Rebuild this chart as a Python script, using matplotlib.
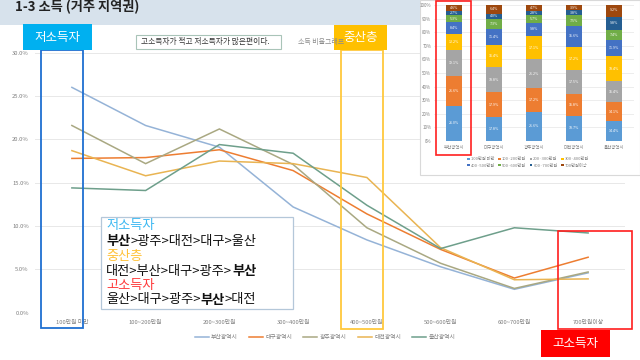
import matplotlib
matplotlib.use('Agg')
import matplotlib.pyplot as plt
from matplotlib.patches import Rectangle
import numpy as np

plt.rcParams['font.family'] = ['Noto Sans CJK KR', 'DejaVu Sans']

# ---------------- data ----------------
categories = ['100만원 미만', '100~200만원', '200~300만원', '300~400만원',
              '400~500만원', '500~600만원', '600~700만원', '700만원이상']
cities = ['부산광역시', '대구광역시', '광주광역시', '대전광역시', '울산광역시']
busan = [26.0, 21.6, 19.1, 12.2, 8.4, 5.3, 2.7, 4.6]
daegu = [17.8, 17.9, 18.8, 16.4, 11.4, 7.3, 4.0, 6.4]
gwangju = [21.6, 17.2, 21.2, 17.1, 9.8, 5.7, 2.8, 4.7]
daejeon = [18.7, 15.8, 17.5, 17.2, 15.6, 7.5, 3.8, 3.9]
ulsan = [14.4, 14.1, 19.4, 18.4, 12.4, 7.4, 9.8, 9.2]
ulsan_bar = [14.4, 14.1, 15.4, 18.4, 11.9, 7.4, 9.8, 9.2]
main_yticks = [0, 5, 10, 15, 20, 25, 30]
inset_yticks = [0, 10, 20, 30, 40, 50, 60, 70, 80, 90, 100]

line_colors = ['#95B3D7', '#ED7D31', '#A9A882', '#E9B452', '#6E9F8B']
bar_colors = ['#5B9BD5', '#ED7D31', '#A5A5A5', '#FFC000',
              '#4472C4', '#70AD47', '#255E91', '#9E480E']

W, H = 640, 360
fig = plt.figure(figsize=(6.4, 3.6), dpi=100)
fig.patch.set_facecolor('white')

def fx(p):
    return p / W

def fy(p):
    return 1 - p / H

# ---------------- main line chart ----------------
ax = fig.add_axes([fx(35), fy(312.7), 590 / W, 260 / H], zorder=0)
ax.set_facecolor('none')
x = np.arange(len(categories))
series = [busan, daegu, gwangju, daejeon, ulsan]
for vals, c, name in zip(series, line_colors, cities):
    ax.plot(x, vals, color=c, lw=1.1, label=name, solid_joinstyle='miter')
ax.set_xlim(-0.5, len(categories) - 0.5)
ax.set_ylim(0, 30)
ax.set_yticks(main_yticks)
ax.set_yticklabels([f'{v:.1f}%' for v in main_yticks])
ax.set_xticks(x)
ax.set_xticklabels(categories)
ax.tick_params(length=0, labelsize=4.2, labelcolor='#7F7F7F')
ax.tick_params(axis='y', pad=4.5)
ax.tick_params(axis='x', pad=5)
ax.grid(axis='y', color='#E8E8E8', lw=0.7)
ax.set_axisbelow(True)
for s in ax.spines.values():
    s.set_visible(False)
ax.legend(loc='center', bbox_to_anchor=(fx(325), fy(337.6)), bbox_transform=fig.transFigure,
          ncol=5, frameon=False, fontsize=4.2, handlelength=2.4, columnspacing=1.9,
          handletextpad=0.4, labelcolor='#7F7F7F')

# ---------------- inset stacked bar chart ----------------
fig.add_artist(Rectangle((fx(420), fy(175)), 220 / W, 175 / H, transform=fig.transFigure,
                         fc='white', ec='#D9D9D9', lw=0.8, zorder=1))
iax = fig.add_axes([fx(434), fy(141), 200 / W, 136 / H], zorder=2)
iax.set_facecolor('none')
bar_data = [busan, daegu, gwangju, daejeon, ulsan_bar]
xi = np.arange(len(cities))
bottoms = np.zeros(len(cities))
handles = []
for k, cat in enumerate(categories):
    vals = np.array([d[k] for d in bar_data])
    b = iax.bar(xi, vals, bottom=bottoms, width=0.38, color=bar_colors[k], label=cat, zorder=2)
    handles.append(b)
    for j in range(len(cities)):
        cy = bottoms[j] + vals[j] / 2
        if cy < 100:
            iax.text(xi[j], cy, f'{vals[j]:.1f}%', ha='center', va='center',
                     fontsize=2.6, color='white', zorder=3)
    bottoms = bottoms + vals
iax.set_ylim(0, 100)
iax.set_xlim(-0.5, len(cities) - 0.5)
iax.set_yticks(inset_yticks)
iax.set_yticklabels([f'{v}%' for v in inset_yticks])
iax.set_xticks(xi)
iax.set_xticklabels(cities)
iax.tick_params(length=0, labelsize=3.2, labelcolor='#7F7F7F')
iax.tick_params(axis='y', pad=2)
iax.tick_params(axis='x', pad=3)
iax.grid(axis='y', color='#E6E6E6', lw=0.5)
iax.set_axisbelow(True)
for s in iax.spines.values():
    s.set_visible(False)
order = [0, 4, 1, 5, 2, 6, 3, 7]
iax.legend([handles[i] for i in order], [categories[i] for i in order], loc='center',
           bbox_to_anchor=(fx(528), fy(162.5)), bbox_transform=fig.transFigure,
           ncol=4, frameon=False, fontsize=3.0, handlelength=0.6, handleheight=0.6,
           handletextpad=0.3, columnspacing=0.8, labelspacing=0.5, labelcolor='#7F7F7F')

# ---------------- overlay (pixel coordinates) ----------------
ov = fig.add_axes([0, 0, 1, 1], zorder=10)
ov.set_xlim(0, W)
ov.set_ylim(H, 0)
ov.set_axis_off()

def box(x0, y0, x1, y1, **kw):
    ov.add_patch(Rectangle((x0, y0), x1 - x0, y1 - y0, **kw))

# header band and title
box(0, 0, 420, 25, fc='#D7E2EC', ec='none')
ov.text(15, 14, '1-3 소득 (거주 지역권)', fontsize=9.5, weight='bold', color='#222222',
        va='bottom', ha='left')

# highlight frames
box(41, 50, 83, 328, fc='none', ec='#1F6FD1', lw=1.3)
box(341, 50, 383, 329, fc='none', ec='#FFC83D', lw=1.3)
box(558, 231, 632, 329, fc='none', ec='#FF1E1E', lw=1.2)
box(436, 1, 471, 155, fc='none', ec='#FF2020', lw=1.2)

# label boxes
box(23, 24, 92, 50, fc='#00B0F0', ec='none')
ov.text(57.5, 37, '저소득자', fontsize=9, color='white', ha='center', va='center')
box(541, 330, 610, 357, fc='#FF0000', ec='none')
ov.text(575.5, 343.5, '고소득자', fontsize=9, color='white', ha='center', va='center')

# note box
box(136, 35, 281, 49, fc='white', ec='#A9C4B8', lw=0.8)
ov.text(141, 42, '고소득자가 적고 저소득자가 많은편이다.', fontsize=5.6, color='#333333',
        ha='left', va='center')
ov.text(298, 42, '소득 비율그래프', fontsize=5.0, color='#8C8C8C', ha='left', va='center')
box(334, 25, 387, 50, fc='#FFC000', ec='none')
ov.text(360.5, 37.5, '중산층', fontsize=9, color='white', ha='center', va='center')

# summary box
box(101, 217, 293, 309, fc='white', ec='#B4C7D9', lw=0.9)
fs = 9.5

def seq(x0, y0, parts):
    t = ov.text(x0, y0, parts[0][0], color=parts[0][1], weight=parts[0][2],
                fontsize=fs, ha='left', va='center')
    prev = t
    for s, c, w in parts[1:]:
        prev = ov.annotate(s, xy=(1, 0.5), xycoords=prev, color=c, weight=w,
                           fontsize=fs, ha='left', va='center')

seq(106, 226, [('저소득자', '#3DB9F2', 'normal')])
seq(106, 241.5, [('부산', '#111111', 'bold'), ('>광주>대전>대구>울산', '#111111', 'normal')])
seq(106, 256.5, [('중산층', '#FFC23A', 'normal')])
seq(106, 271, [('대전>부산>대구>광주>', '#111111', 'normal'), ('부산', '#111111', 'bold')])
seq(106, 285.5, [('고소득자', '#FF3B3B', 'normal')])
seq(106, 300, [('울산>대구>광주>', '#111111', 'normal'), ('부산', '#111111', 'bold'),
               ('>대전', '#111111', 'normal')])

fig.savefig('out.png', dpi=100, facecolor='white')
